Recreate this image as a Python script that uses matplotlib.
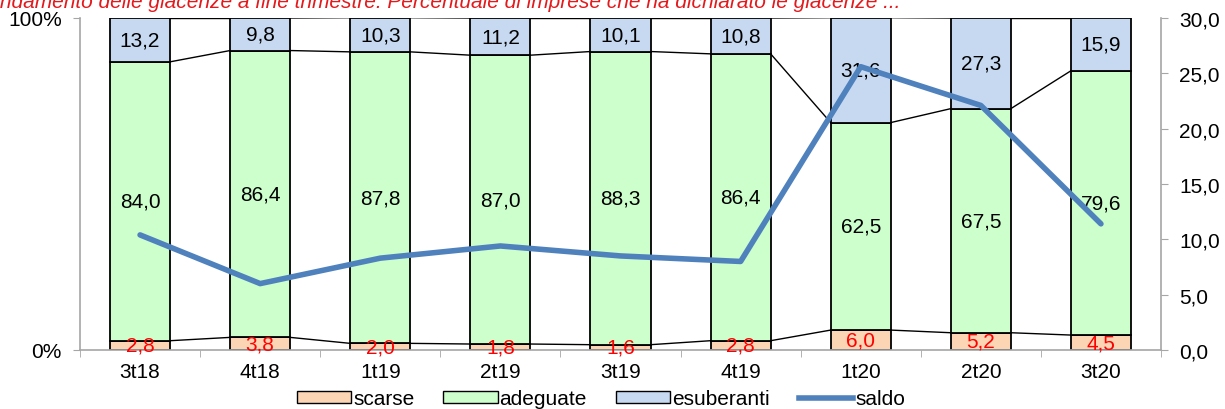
import numpy as np
import matplotlib
matplotlib.use('Agg')
import matplotlib.pyplot as plt
from matplotlib.patches import Patch
from matplotlib.lines import Line2D

plt.rcParams['font.family'] = ['Liberation Sans', 'DejaVu Sans']

# data
periods = ['3t18', '4t18', '1t19', '2t19', '3t19', '4t19', '1t20', '2t20', '3t20']
scarse = [2.8, 3.8, 2.0, 1.8, 1.6, 2.8, 6.0, 5.2, 4.5]
adeguate = [84.0, 86.4, 87.8, 87.0, 88.3, 86.4, 62.5, 67.5, 79.6]
esuberanti = [13.2, 9.8, 10.3, 11.2, 10.1, 10.8, 31.6, 27.3, 15.9]
saldo = [10.4, 6.0, 8.3, 9.4, 8.5, 8.0, 25.6, 22.1, 11.4]

title = 'Andamento delle giacenze a fine trimestre: Percentuale di imprese che ha dichiarato le giacenze ...'

c_sc = '#FCD5B5'
c_ad = '#CCFFCC'
c_es = '#C6D9F1'
c_saldo = '#4F81BD'
gray = '#A6A6A6'
fs = 15

def fmt(v):
    return f'{v:.1f}'.replace('.', ',')

fig = plt.figure(figsize=(12.25, 4.1), dpi=100)
ax = fig.add_axes([80/1225, 1-351/410, 1081/1225, 332/410])

x = np.arange(len(periods))
w = 0.5
sc = np.array(scarse) / 100
ad = np.array(adeguate) / 100
es = np.array(esuberanti) / 100
tot = sc + ad + es

ax.bar(x, sc, w, color=c_sc, edgecolor='black', linewidth=1.3, zorder=2)
ax.bar(x, ad, w, bottom=sc, color=c_ad, edgecolor='black', linewidth=1.3, zorder=2)
ax.bar(x, es, w, bottom=sc + ad, color=c_es, edgecolor='black', linewidth=1.3, zorder=2)

# series lines between bars
for lev in [sc, sc + ad, tot]:
    for i in range(len(x) - 1):
        ax.plot([x[i] + w/2, x[i+1] - w/2], [lev[i], lev[i+1]], color='black', lw=1.0, zorder=1)

# labels
for i in range(len(x)):
    ax.text(x[i], sc[i]/2, fmt(scarse[i]), ha='center', va='center', color='red', fontsize=fs, zorder=5)
    ax.text(x[i], sc[i] + ad[i]/2, fmt(adeguate[i]), ha='center', va='center', fontsize=fs, zorder=5)
    ax.text(x[i], sc[i] + ad[i] + es[i]/2, fmt(esuberanti[i]), ha='center', va='center', fontsize=fs, zorder=5)

ax.set_xlim(-0.5, len(x) - 0.5)
ax.set_ylim(0, 1)
ax.set_yticks([0, 1])
ax.set_yticklabels(['0%', '100%'], fontsize=fs)
ax.set_xticks(x)
ax.set_xticklabels(periods, fontsize=fs)
ax.tick_params(axis='x', length=0, pad=9)
ax.set_xticks(np.arange(len(x) + 1) - 0.5, minor=True)
ax.tick_params(axis='x', which='minor', length=5, color=gray)
ax.tick_params(axis='y', length=5, color=gray, pad=8)
for s in ['top', 'right']:
    ax.spines[s].set_visible(False)
for s in ['left', 'bottom']:
    ax.spines[s].set_color(gray)
    ax.spines[s].set_linewidth(1.2)

ax2 = ax.twinx()
ax2.plot(x, saldo, color=c_saldo, lw=4, solid_capstyle='round', zorder=4)
ax2.set_ylim(0, 30)
ax2.set_yticks(np.arange(0, 31, 5))
ax2.set_yticklabels([fmt(v) for v in np.arange(0, 31, 5)], fontsize=fs)
ax2.tick_params(axis='y', length=5, color=gray, pad=8)
for s in ['top', 'left', 'bottom']:
    ax2.spines[s].set_visible(False)
ax2.spines['right'].set_color(gray)
ax2.spines['right'].set_linewidth(1.2)

handles = [Patch(facecolor=c_sc, edgecolor='black', label='scarse'),
           Patch(facecolor=c_ad, edgecolor='black', label='adeguate'),
           Patch(facecolor=c_es, edgecolor='black', label='esuberanti'),
           Line2D([], [], color=c_saldo, lw=4, label='saldo')]
fig.legend(handles=handles, loc='center', bbox_to_anchor=(601/1225, 1-400/410), ncol=4,
           frameon=False, fontsize=fs, handlelength=2.6, handleheight=0.55,
           handletextpad=0.1, columnspacing=1.4, borderpad=0)

fig.text(-14/1225, 1-8/410, title, color='#E3191C', style='italic', fontsize=fs,
         ha='left', va='baseline')

fig.savefig('out.png', dpi=100)
